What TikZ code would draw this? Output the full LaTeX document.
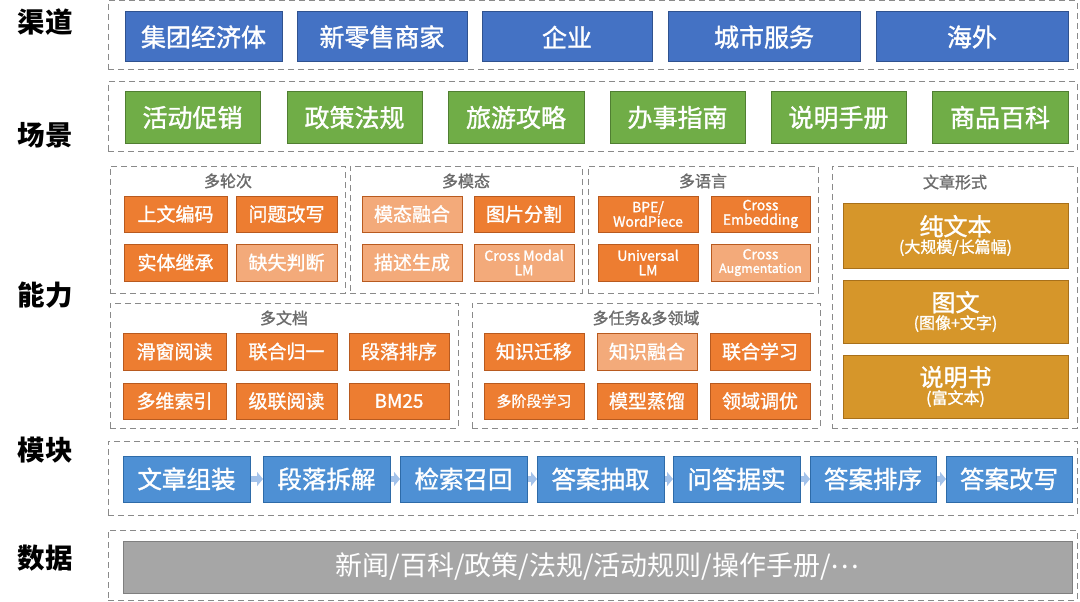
\documentclass[tikz,border=0pt]{standalone}
\usepackage{fontspec}
\setmainfont{Noto Sans CJK SC}
\newfontfamily\bxfont{Noto Sans CJK SC}[FakeBold=1.3]
\usetikzlibrary{arrows.meta}
\definecolor{cblue}{HTML}{4472C4}
\definecolor{cbluedk}{HTML}{2F528F}
\definecolor{cgreen}{HTML}{70AD47}
\definecolor{cgreendk}{HTML}{507E32}
\definecolor{corange}{HTML}{ED7D31}
\definecolor{corangedk}{HTML}{B85A1F}
\definecolor{clight}{HTML}{F3AA7A}
\definecolor{cgold}{HTML}{D6962A}
\definecolor{cgolddk}{HTML}{A8701A}
\definecolor{cmod}{HTML}{4E90D4}
\definecolor{cmoddk}{HTML}{2E6BA8}
\definecolor{cmodarr}{HTML}{A3C2EA}
\definecolor{cgray}{HTML}{A6A6A6}
\definecolor{cgraydk}{HTML}{7F7F7F}
\definecolor{cdash}{HTML}{8A8A8A}
\newcommand\bx[7]{\node[#6, minimum width={(#4)-(#2)}, minimum height={(#5)-(#3)}] (#1) at ({((#2)+(#4))/2},{((#3)+(#5))/2}) {#7};}
\tikzset{
  base/.style={inner sep=0pt, outer sep=0pt, align=center, text=white, line width=1pt},
  chan/.style={base, fill=cblue, draw=cbluedk, font=\bxfont\fontsize{25}{28}\selectfont},
  scen/.style={base, fill=cgreen, draw=cgreendk, font=\bxfont\fontsize{25}{28}\selectfont},
  abil/.style={base, fill=corange, draw=corangedk, font=\bxfont\fontsize{19}{22}\selectfont},
  abill/.style={abil, fill=clight},
  abils/.style={base, fill=corange, draw=corangedk, font=\bxfont\fontsize{14}{14.5}\selectfont},
  abilsl/.style={abils, fill=clight},
  form/.style={base, fill=cgold, draw=cgolddk, font=\bxfont},
  modb/.style={base, fill=cmod, draw=cmoddk, font=\bxfont\fontsize{24.5}{28}\selectfont},
  datab/.style={base, fill=cgray, draw=cgraydk, font=\fontsize{27}{30}\selectfont},
  cont/.style={draw=cdash, line width=1pt, dash pattern=on 6pt off 4pt, inner sep=0pt, outer sep=0pt},
  layer/.style={font=\fontsize{27.5}{30}\selectfont\bfseries, text=black},
  title/.style={font=\bxfont\fontsize{16}{18}\selectfont, text=black!58},
  modarrow/.style={draw=cmodarr, line width=6pt, -{Triangle[width=14pt,length=6pt]}, shorten <=1pt, shorten >=0pt},
}
\begin{document}
\begin{tikzpicture}[x=1pt,y=-1pt]
\useasboundingbox (0,0) rectangle (1080,602);
% layer labels
\node[layer] (l1) at (45,22) {渠道};
\node[layer] (l2) at (45,135) {场景};
\node[layer] (l3) at (45,295) {能力};
\node[layer] (l4) at (45,450) {模块};
\node[layer] (l5) at (45,558) {数据};
% channel row
\bx{c1}{108}{1}{1077}{70}{cont}{}
\bx{ch1}{125}{12}{282}{62}{chan}{集团经济体}
\bx{ch2}{297}{12}{467}{62}{chan}{新零售商家}
\bx{ch3}{482}{12}{652}{62}{chan}{企业}
\bx{ch4}{668}{12}{860}{62}{chan}{城市服务}
\bx{ch5}{876}{12}{1068}{62}{chan}{海外}
% scene row
\bx{c2}{108}{82}{1077}{151}{cont}{}
\bx{sc1}{125}{92}{260}{143}{scen}{活动促销}
\bx{sc2}{287}{92}{422}{143}{scen}{政策法规}
\bx{sc3}{448}{92}{584}{143}{scen}{旅游攻略}
\bx{sc4}{610}{92}{745}{143}{scen}{办事指南}
\bx{sc5}{771}{92}{906}{143}{scen}{说明手册}
\bx{sc6}{932}{92}{1068}{143}{scen}{商品百科}
% ability: multi-turn
\bx{a1}{110}{166}{345}{293}{cont}{}
\node[title] (t1) at (228,181) {多轮次};
\bx{a11}{124}{196}{227}{232}{abil}{上文编码}
\bx{a12}{236}{196}{337}{232}{abil}{问题改写}
\bx{a13}{124}{244}{227}{281}{abil}{实体继承}
\bx{a14}{236}{244}{337}{281}{abill}{缺失判断}
% multi-modal
\bx{a2}{350}{166}{582}{293}{cont}{}
\node[title] (t2) at (466,181) {多模态};
\bx{a21}{362}{196}{462}{232}{abill}{模态融合}
\bx{a22}{474}{196}{574}{232}{abil}{图片分割}
\bx{a23}{362}{244}{462}{281}{abill}{描述生成}
\bx{a24}{474}{244}{574}{281}{abilsl}{Cross Modal\\LM}
% multi-lingual
\bx{a3}{588}{166}{818}{293}{cont}{}
\node[title] (t3) at (703,181) {多语言};
\bx{a31}{598}{196}{698}{232}{abils}{BPE/\\WordPiece}
\bx{a32}{711}{196}{810}{232}{abils}{Cross\\Embedding}
\bx{a33}{598}{244}{698}{281}{abils}{Universal\\LM}
\bx{a34}{711}{244}{810}{281}{abilsl}{Cross\\[-1pt]{\fontsize{12.5}{13}\selectfont Augmentation}}
% article form
\bx{a4}{832}{166}{1077}{428}{cont}{}
\node[title] (t4) at (955,182) {文章形式};
\bx{f1}{843}{203}{1068}{268}{form}{{\fontsize{24}{27}\selectfont 纯文本}\\[1pt]{\fontsize{16}{18}\selectfont (大规模/长篇幅)}}
\bx{f2}{843}{280}{1068}{343}{form}{{\fontsize{24}{27}\selectfont 图文}\\[1pt]{\fontsize{16}{18}\selectfont (图像+文字)}}
\bx{f3}{843}{355}{1068}{418}{form}{{\fontsize{24}{27}\selectfont 说明书}\\[1pt]{\fontsize{16}{18}\selectfont (富文本)}}
% multi-doc
\bx{a5}{110}{303}{458}{428}{cont}{}
\node[title] (t5) at (284,318) {多文档};
\bx{a51}{123}{333}{226}{370}{abil}{滑窗阅读}
\bx{a52}{236}{333}{337}{370}{abil}{联合归一}
\bx{a53}{349}{333}{449}{370}{abil}{段落排序}
\bx{a54}{123}{383}{226}{419}{abil}{多维索引}
\bx{a55}{236}{383}{337}{419}{abil}{级联阅读}
\bx{a56}{349}{383}{449}{419}{abil}{BM25}
% multi-task
\bx{a6}{472}{303}{820}{428}{cont}{}
\node[title] (t6) at (646,318) {多任务\&多领域};
\bx{a61}{484}{333}{584}{370}{abil}{知识迁移}
\bx{a62}{597}{333}{697}{370}{abill}{知识融合}
\bx{a63}{710}{333}{810}{370}{abil}{联合学习}
\bx{a64}{484}{383}{584}{419}{abil}{\fontsize{15}{17}\selectfont 多阶段学习}
\bx{a65}{597}{383}{697}{419}{abil}{模型蒸馏}
\bx{a66}{710}{383}{810}{419}{abil}{领域调优}
% module row
\bx{c4}{108}{441}{1077}{515}{cont}{}
\bx{m1}{123}{456}{250}{502}{modb}{文章组装}
\bx{m2}{263}{456}{390}{502}{modb}{段落拆解}
\bx{m3}{400}{456}{527}{502}{modb}{检索召回}
\bx{m4}{537}{456}{664}{502}{modb}{答案抽取}
\bx{m5}{673}{456}{800}{502}{modb}{问答据实}
\bx{m6}{810}{456}{936}{502}{modb}{答案排序}
\bx{m7}{946}{456}{1072}{502}{modb}{答案改写}
\draw[modarrow] (m1) -- (m2);
\draw[modarrow] (m2) -- (m3);
\draw[modarrow] (m3) -- (m4);
\draw[modarrow] (m4) -- (m5);
\draw[modarrow] (m5) -- (m6);
\draw[modarrow] (m6) -- (m7);
% data row
\bx{c5}{108}{530}{1077}{600}{cont}{}
\bx{d1}{123}{541}{1072}{593}{datab}{新闻/百科/政策/法规/活动规则/操作手册/\raisebox{7pt}{…}}
\end{tikzpicture}
\end{document}
